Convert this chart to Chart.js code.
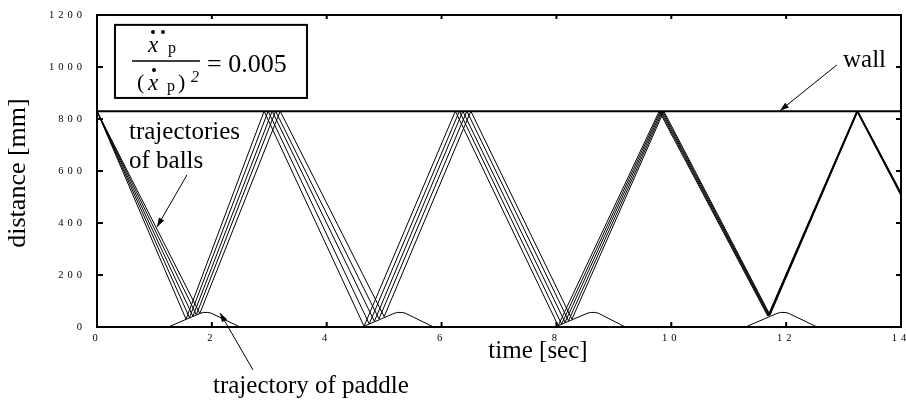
<!DOCTYPE html>
<html><head><meta charset="utf-8">
<script src="https://cdn.jsdelivr.net/npm/chart.js@4/dist/chart.umd.min.js"></script>
<style>html,body{margin:0;padding:0;background:#fff}canvas{display:block}</style>
</head><body>
<canvas id="c" width="906" height="400"></canvas>
<script>
// ---- data ----
const xTicks = [0, 2, 4, 6, 8, 10, 12, 14];
const yTicks = [0, 200, 400, 600, 800, 1000, 1200];
const wallHeight = 830;

const ball1X = [0, 1.55, 2.91, 4.65, 6.24, 8.03, 9.79, 11.68, 13.23, 14];
const ball1Y = [830, 30, 830, 3, 830, 5, 830, 42, 830, 505];
const ball2X = [0, 1.61, 2.98, 4.74, 6.31, 8.09, 9.81, 11.69, 13.235, 14];
const ball2Y = [830, 36, 830, 12, 830, 11, 830, 43, 830, 508];
const ball3X = [0, 1.67, 3.05, 4.83, 6.37, 8.15, 9.83, 11.70, 13.24, 14];
const ball3Y = [830, 41, 830, 22, 830, 18, 830, 44, 830, 511];
const ball4X = [0, 1.73, 3.11, 4.91, 6.44, 8.21, 9.85, 11.71, 13.245, 14];
const ball4Y = [830, 47, 830, 31, 830, 24, 830, 45, 830, 514];
const ball5X = [0, 1.79, 3.19, 5.00, 6.51, 8.27, 9.87, 11.72, 13.25, 14];
const ball5Y = [830, 52, 830, 40, 830, 30, 830, 46, 830, 517];

const paddleX = [0, 1.24, 1.79, 1.85, 1.93, 1.99, 2.49,
                 4.62, 5.17, 5.23, 5.31, 5.37, 5.86,
                 7.98, 8.53, 8.59, 8.67, 8.73, 9.20,
                 11.29, 11.84, 11.90, 11.98, 12.04, 12.54, 14];
const paddleY = [0, 0, 52, 56, 56, 53, 0,
                 0, 52, 56, 56, 53, 0,
                 0, 52, 56, 56, 53, 0,
                 0, 52, 56, 56, 53, 0, 0];

// annotation anchors, in data units
const ballsLabel = ['trajectories', 'of balls'];
const ballsLabelPos = [[0.557, 723], [0.557, 612]];
const ballsArrow = [[1.567, 585], [1.045, 385]];
const paddleLabel = 'trajectory of paddle';
const paddleLabelPos = [2.02, -254];
const paddleArrow = [[2.716, -165], [2.142, 54]];
const wallLabel = 'wall';
const wallLabelPos = [12.99, 1000];
const wallArrow = [[12.885, 1008], [11.893, 832]];
const formulaBox = [[0.313, 1162], [3.657, 881]];
const formulaValue = '= 0.005';

const xTitle = 'time [sec]';
const yTitle = 'distance [mm]';

function pts(xs, ys) { return xs.map((x, i) => ({x: x, y: ys[i]})); }

const lineDs = (label, xs, ys, w) => ({
  label: label, data: pts(xs, ys), showLine: true, borderColor: '#000',
  backgroundColor: '#000', borderWidth: w, pointRadius: 0, tension: 0, fill: false
});

const datasets = [
  lineDs('ball 1', ball1X, ball1Y, 1),
  lineDs('ball 2', ball2X, ball2Y, 1),
  lineDs('ball 3', ball3X, ball3Y, 1),
  lineDs('ball 4', ball4X, ball4Y, 1),
  lineDs('ball 5', ball5X, ball5Y, 1),
  lineDs('paddle', paddleX, paddleY, 1),
  lineDs('wall', [xTicks[0], xTicks[xTicks.length - 1]], [wallHeight, wallHeight], 2)
];

const SERIF = '"Liberation Serif", "Times New Roman", serif';

function arrow(ctx, x1, y1, x2, y2) {
  ctx.beginPath(); ctx.moveTo(x1, y1); ctx.lineTo(x2, y2); ctx.stroke();
  const a = Math.atan2(y2 - y1, x2 - x1), L = 9, W = 3;
  ctx.beginPath();
  ctx.moveTo(x2, y2);
  ctx.lineTo(x2 - L * Math.cos(a) + W * Math.sin(a), y2 - L * Math.sin(a) - W * Math.cos(a));
  ctx.lineTo(x2 - L * Math.cos(a) - W * Math.sin(a), y2 - L * Math.sin(a) + W * Math.cos(a));
  ctx.closePath(); ctx.fill();
}

const spacingPlugin = {
  id: 'spacing',
  beforeDraw(chart) { chart.ctx.letterSpacing = '4px'; }
};

const decorPlugin = {
  id: 'decor',
  afterDraw(chart) {
    const ctx = chart.ctx, a = chart.chartArea;
    const xs = chart.scales.x, ys = chart.scales.y;
    const px = v => xs.getPixelForValue(v), py = v => ys.getPixelForValue(v);
    ctx.save();
    ctx.letterSpacing = '0px';
    ctx.strokeStyle = '#000'; ctx.fillStyle = '#000';
    // frame
    ctx.lineWidth = 2;
    ctx.strokeRect(a.left, a.top, a.right - a.left, a.bottom - a.top);
    // inward ticks
    ctx.beginPath();
    xs.ticks.forEach(t => {
      const p = xs.getPixelForValue(t.value);
      ctx.moveTo(p, a.bottom); ctx.lineTo(p, a.bottom - 5);
      ctx.moveTo(p, a.top); ctx.lineTo(p, a.top + 4);
    });
    ys.ticks.forEach(t => {
      const p = ys.getPixelForValue(t.value);
      ctx.moveTo(a.left, p); ctx.lineTo(a.left + 6, p);
      ctx.moveTo(a.right, p); ctx.lineTo(a.right - 5, p);
    });
    ctx.stroke();

    // axis titles
    ctx.font = '25px ' + SERIF;
    ctx.textAlign = 'center'; ctx.textBaseline = 'alphabetic';
    ctx.fillText(xTitle, (a.left + a.right) / 2 + 39, a.bottom + 31);
    ctx.save();
    ctx.font = '26px ' + SERIF;
    ctx.translate(25, (a.top + a.bottom) / 2 + 2);
    ctx.rotate(-Math.PI / 2);
    ctx.fillText(yTitle, 0, 0);
    ctx.restore();

    // annotations
    ctx.textAlign = 'left';
    ballsLabel.forEach((s, i) => ctx.fillText(s, px(ballsLabelPos[i][0]), py(ballsLabelPos[i][1])));
    ctx.fillText(paddleLabel, px(paddleLabelPos[0]), py(paddleLabelPos[1]));
    ctx.fillText(wallLabel, px(wallLabelPos[0]), py(wallLabelPos[1]));
    ctx.lineWidth = 1;
    [ballsArrow, paddleArrow, wallArrow].forEach(ar =>
      arrow(ctx, px(ar[0][0]), py(ar[0][1]), px(ar[1][0]), py(ar[1][1])));

    // formula box
    const L = px(formulaBox[0][0]), T = py(formulaBox[0][1]);
    const R = px(formulaBox[1][0]), B = py(formulaBox[1][1]);
    ctx.fillStyle = '#fff';
    ctx.fillRect(L, T, R - L, B - T);
    ctx.fillStyle = '#000';
    ctx.lineWidth = 2;
    ctx.strokeRect(L, T, R - L, B - T);
    ctx.lineWidth = 1.5;
    ctx.beginPath(); ctx.moveTo(L + 17, T + 36); ctx.lineTo(L + 85, T + 36); ctx.stroke();
    const dot = (x, y) => { ctx.beginPath(); ctx.arc(x, y, 2, 0, Math.PI * 2); ctx.fill(); };
    // numerator
    ctx.font = 'italic 23px ' + SERIF;
    ctx.fillText('x', L + 33, T + 27);
    dot(L + 38, T + 7); dot(L + 48, T + 7);
    ctx.font = '16px ' + SERIF;
    ctx.fillText('p', L + 53, T + 28);
    // denominator
    ctx.font = '22px ' + SERIF;
    ctx.fillText('(', L + 22, T + 64);
    ctx.font = 'italic 23px ' + SERIF;
    ctx.fillText('x', L + 33, T + 65);
    dot(L + 39, T + 45);
    ctx.font = '16px ' + SERIF;
    ctx.fillText('p', L + 52, T + 66);
    ctx.font = '22px ' + SERIF;
    ctx.fillText(')', L + 63, T + 64);
    ctx.font = 'italic 16px ' + SERIF;
    ctx.fillText('2', L + 76, T + 57);
    ctx.font = '26px ' + SERIF;
    ctx.fillText(formulaValue, L + 92, T + 47);
    ctx.restore();
  }
};

new Chart(document.getElementById('c'), {
  type: 'scatter',
  data: { datasets: datasets },
  plugins: [spacingPlugin, decorPlugin],
  options: {
    responsive: false,
    animation: false,
    devicePixelRatio: 1,
    layout: { padding: { left: 0, right: 5, top: 15, bottom: 0 } },
    plugins: { legend: { display: false }, tooltip: { enabled: false }, title: { display: false } },
    scales: {
      x: {
        type: 'linear', min: xTicks[0], max: xTicks[xTicks.length - 1],
        grid: { display: false, drawTicks: false }, border: { display: false },
        afterBuildTicks: s => { s.ticks = xTicks.map(v => ({ value: v })); },
        afterFit: s => { s.height = 73; s.paddingLeft = 0; s.paddingRight = 0; },
        ticks: { color: '#000', padding: 5, maxRotation: 0, autoSkip: false,
                 callback: v => String(v),
                 font: { family: SERIF, size: 10.5 } }
      },
      y: {
        type: 'linear', min: yTicks[0], max: yTicks[yTicks.length - 1],
        grid: { display: false, drawTicks: false }, border: { display: false },
        afterBuildTicks: s => { s.ticks = yTicks.map(v => ({ value: v })); },
        afterFit: s => { s.width = 97; s.paddingTop = 0; s.paddingBottom = 0; },
        ticks: { color: '#000', padding: 11, callback: v => String(v),
                 font: { family: SERIF, size: 10.5 } }
      }
    }
  }
});
</script>
</body></html>
